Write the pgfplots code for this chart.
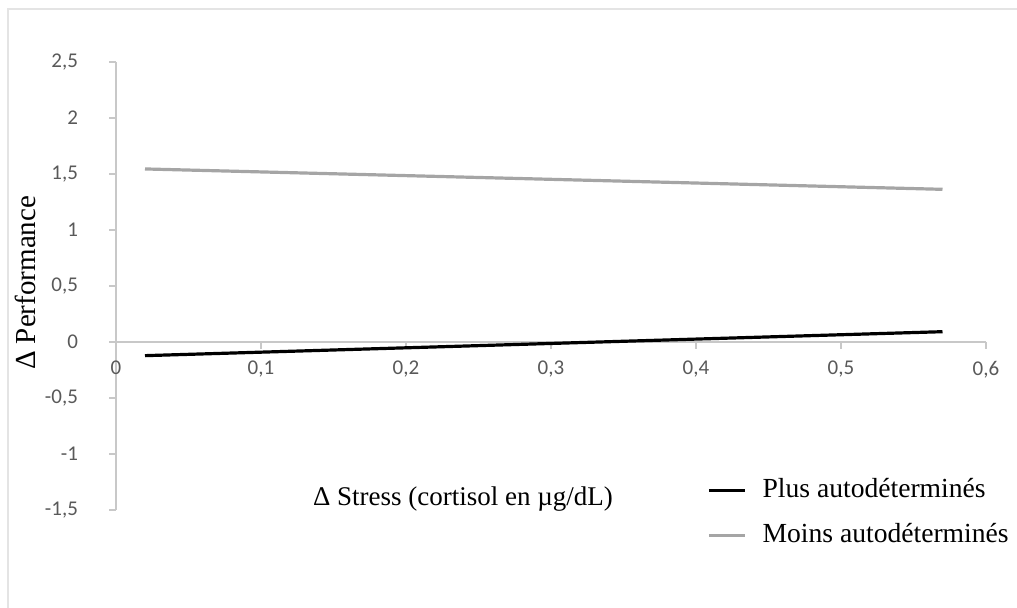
\documentclass[border=0pt]{standalone}
\usepackage{pgfplots}
\pgfplotsset{compat=1.18}
\usepackage{fontspec}
\setmainfont{Liberation Serif}
\newfontfamily\calibri{Carlito}

\definecolor{axisgray}{HTML}{C8C8C8}
\definecolor{tickgray}{HTML}{595959}
\definecolor{seriesgray}{HTML}{A5A5A5}
\definecolor{framegray}{HTML}{E4E4E4}

\begin{document}
\begin{tikzpicture}
\path[use as bounding box] (0,0) rectangle (508.5pt,304pt);
% light frame of the chart area
\draw[framegray, line width=1pt] (4pt,0pt) -- (4pt,299.5pt) -- (508.5pt,299.5pt);

\begin{axis}[
  at={(58pt,49pt)}, anchor=south west,
  scale only axis, width=435pt, height=224pt,
  xmin=0, xmax=0.6, ymin=-1.5, ymax=2.5,
  axis x line=middle, axis y line=left,
  axis line style={draw=axisgray, line width=0.75pt, -},
  xtick={0,0.1,0.2,0.3,0.4,0.5,0.6},
  ytick={-1.5,-1,-0.5,0,0.5,1,1.5,2,2.5},
  tick align=outside, major tick length=3.5pt,
  tick style={draw=axisgray, line width=0.75pt},
  hide obscured x ticks=false, hide obscured y ticks=false,
  /pgf/number format/.cd, use comma, assume math mode=true,
  /pgfplots/.cd,
  ticklabel style={font=\calibri\fontsize{10.5}{12}\selectfont, text=tickgray},
  xticklabel style={anchor=north, yshift=-2.5pt},
  yticklabel style={anchor=east, xshift=-12pt},
  xlabel={Δ Stress (cortisol en µg/dL)},
  xlabel style={at={(rel axis cs:0.3988,0.009)}, anchor=base,
    font=\fontsize{13.5}{16}\selectfont},
  ylabel={Δ Performance},
  ylabel style={at={(rel axis cs:-0.104,0.507)}, anchor=center,
    font=\fontsize{14.5}{17}\selectfont},
  legend style={at={(rel axis cs:0.6793,0.0737)}, anchor=north west,
    draw=none, fill=none, inner sep=0pt, row sep=9.5pt, column sep=8pt,
    font=\fontsize{13.8}{16}\selectfont,
    nodes={inner sep=0pt, text height=10pt, text depth=3pt}},
  legend cell align=left,
  legend image code/.code={\draw[#1] (0pt,0pt) -- (18pt,0pt);},
]
\addplot[black, line width=1.6pt] coordinates {(0.02,-0.122) (0.57,0.092)};
\addlegendentry{Plus autodéterminés}
\addplot[seriesgray, line width=1.6pt] coordinates {(0.02,1.545) (0.57,1.363)};
\addlegendentry{Moins autodéterminés}
\end{axis}
\end{tikzpicture}
\end{document}
